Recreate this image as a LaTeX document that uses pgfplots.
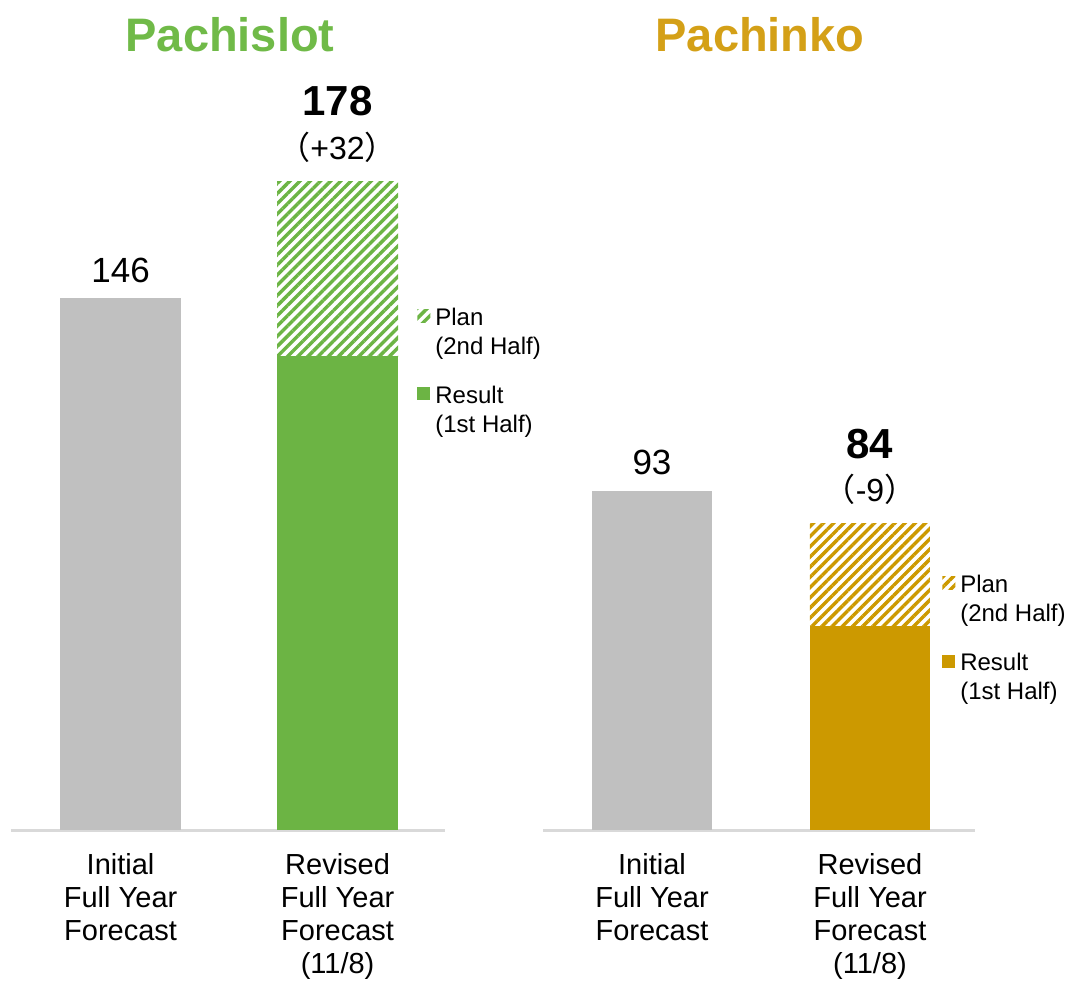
\documentclass[border=0pt]{standalone}
\usepackage{pgfplots}
\pgfplotsset{compat=1.18}
\usepackage{fontspec}
\setmainfont{Liberation Sans}
\newfontfamily\cjk{Noto Sans CJK JP}
\usetikzlibrary{patterns.meta}
\definecolor{slotgreen}{RGB}{108,180,68}
\definecolor{titlegreen}{RGB}{112,186,72}
\definecolor{pgold}{RGB}{204,153,0}
\definecolor{titlegold}{RGB}{212,160,23}
\definecolor{bargray}{RGB}{192,192,192}
\definecolor{linegray}{RGB}{217,217,217}
\pgfplotsset{
 common/.style={
  scale only axis, height=328pt, ymin=0, ymax=180,
  ybar stacked, clip=false,
  axis x line=bottom, axis y line=none,
  axis line style={-, draw=linegray, line width=1.5pt},
  xtick={0,1}, major tick length=0pt,
  xticklabels={{Initial\\Full Year\\Forecast},{Revised\\Full Year\\Forecast\\(11/8)}},
  xticklabel style={align=center, font=\fontsize{14.5}{16.6}\selectfont, anchor=north, yshift=-8pt},
  legend cell align=left, reverse legend,
  legend style={draw=none, fill=none, inner sep=0pt, column sep=2.5pt, row sep=27.5pt,
    font=\fontsize{12}{14.5}\selectfont, nodes={inner sep=0pt, anchor=base west}},
  legend image code/.code={\fill[#1] (0pt,1.5pt) rectangle (6.5pt,8pt);},
 }
}
\begin{document}
\begin{tikzpicture}
\path[use as bounding box] (0,0) rectangle (537pt,490pt);
\node[anchor=base, font=\fontsize{23.5}{28}\selectfont\bfseries, text=titlegreen] at (115pt,464pt) {Pachislot};
\node[anchor=base, font=\fontsize{23.5}{28}\selectfont\bfseries, text=titlegold] at (380pt,464pt) {Pachinko};
% Pachislot
\begin{axis}[common, at={(5.5pt,75pt)}, anchor=south west, width=217pt,
  xmin=-0.505, xmax=1.495, bar width=60.5pt,
  legend style={at={(axis cs:1.366,144.2)}, anchor=north west}]
\addplot[fill=bargray, draw=none, forget plot] coordinates {(0,146) (1,0)};
\addplot[fill=slotgreen, draw=none] coordinates {(0,0) (1,130)};
\addplot[draw=none, pattern={Lines[angle=45,distance=3.6pt,line width=1.7pt]}, pattern color=slotgreen] coordinates {(0,0) (1,48)};
\legend{{\begin{tabular}[t]{@{}l@{}}Result\\(1st Half)\end{tabular}},{\begin{tabular}[t]{@{}l@{}}Plan\\(2nd Half)\end{tabular}}}
\node[anchor=base, yshift=7.5pt, font=\fontsize{17.5}{21}\selectfont] at (axis cs:0,146) {146};
\node[anchor=base, yshift=33pt, font=\fontsize{21}{25}\selectfont\bfseries] at (axis cs:1,178) {178};
\node[anchor=base, yshift=11pt, font=\fontsize{16}{19}\selectfont] at (axis cs:1,178) {{\cjk （}+32{\cjk ）}};
\end{axis}
% Pachinko
\begin{axis}[common, at={(271.5pt,75pt)}, anchor=south west, width=215.8pt,
  xmin=-0.5, xmax=1.48, bar width=60pt,
  legend style={at={(axis cs:1.33,70.9)}, anchor=north west}]
\addplot[fill=bargray, draw=none, forget plot] coordinates {(0,93) (1,0)};
\addplot[fill=pgold, draw=none] coordinates {(0,0) (1,56)};
\addplot[draw=none, pattern={Lines[angle=45,distance=3.6pt,line width=1.7pt]}, pattern color=pgold] coordinates {(0,0) (1,28)};
\legend{{\begin{tabular}[t]{@{}l@{}}Result\\(1st Half)\end{tabular}},{\begin{tabular}[t]{@{}l@{}}Plan\\(2nd Half)\end{tabular}}}
\node[anchor=base, yshift=8.5pt, font=\fontsize{17.5}{21}\selectfont] at (axis cs:0,93) {93};
\node[anchor=base, yshift=32.5pt, font=\fontsize{21}{25}\selectfont\bfseries] at (axis cs:1,84) {84};
\node[anchor=base, yshift=11pt, font=\fontsize{16}{19}\selectfont] at (axis cs:1,84) {{\cjk （}-9{\cjk ）}};
\end{axis}
\end{tikzpicture}
\end{document}
